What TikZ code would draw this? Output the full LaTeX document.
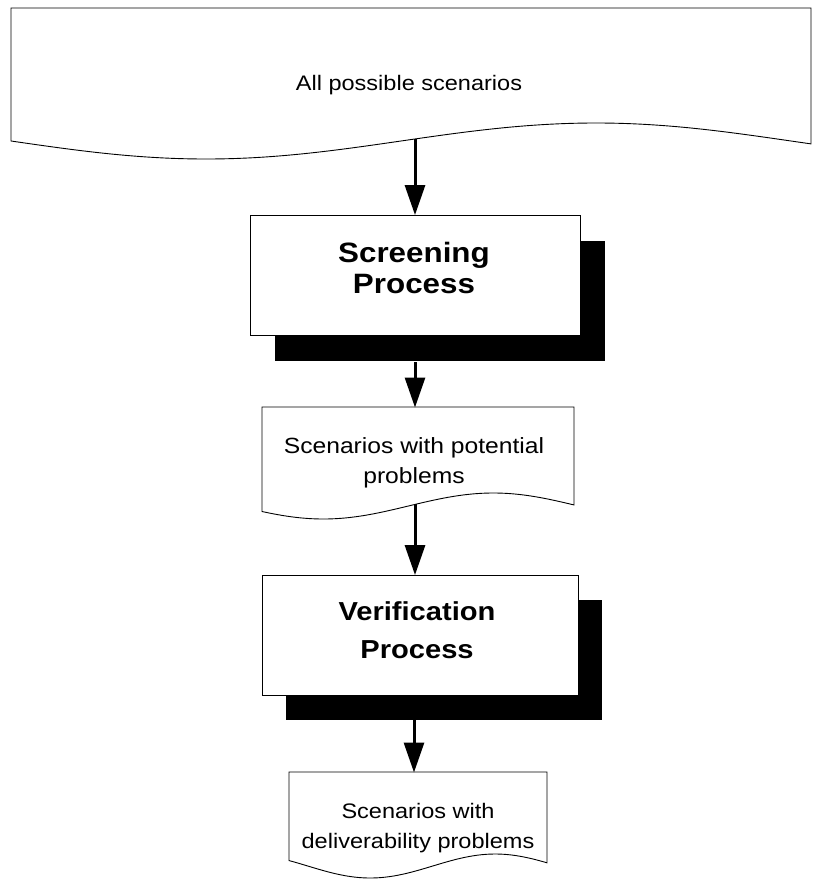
\documentclass[tikz,border=0pt]{standalone}
\usepackage{fontspec}
\newfontfamily\lsans[FakeStretch=1.12]{Liberation Sans}
\usetikzlibrary{arrows.meta,shadows}

\begin{document}
\begin{tikzpicture}[x=1pt,y=-1pt,
  outline/.style={draw=black, line width=0.9pt, fill=white},
  procbox/.style={draw=black, line width=0.9pt, fill=white, rectangle, inner sep=0pt},
  proctext/.style={font=\lsans\bfseries, inner sep=0pt, anchor=base},
  doctext/.style={font=\lsans, inner sep=0pt, anchor=base},
  flow/.style={line width=3pt, -{Triangle[length=30pt,width=20pt]}, shorten >=-0.5pt},
]
\useasboundingbox (0,0) rectangle (812,881);

% document shape: top edge, sides, and a wavy bottom edge
% all possible scenarios
\draw[outline] plot[domain=11:811, samples=90, smooth]
  (\x, {141+18*sin((\x-11)/780*360)}) -- (811,8) -- (11,8) -- cycle;
\coordinate (allout) at (415,139.4);
\node[doctext, font=\lsans\fontsize{21}{25}\selectfont] (alltext) at (409,90) {All possible scenarios};

% screening process
\node[procbox, minimum width=330pt, minimum height=120pt,
  drop shadow={shadow xshift=25pt, shadow yshift=-26pt, opacity=1, fill=black}]
  (screen) at (415,275) {};
\node[proctext, font=\lsans\bfseries\fontsize{28}{31}\selectfont] (screenA) at (414,262) {Screening};
\node[proctext, font=\lsans\bfseries\fontsize{28}{31}\selectfont] (screenB) at (414,293) {Process};
\coordinate (screenout) at (415,362);

% scenarios with potential problems
\draw[outline] plot[domain=262:574, samples=60, smooth]
  (\x, {506+13*sin((\x-262)/340*360+25)}) -- (574,407) -- (262,407) -- cycle;
\coordinate (potin) at (415,407);
\coordinate (potout) at (415,504.4);
\node[doctext, font=\lsans\fontsize{22}{29}\selectfont] (potA) at (414,453) {Scenarios with potential};
\node[doctext, font=\lsans\fontsize{22}{29}\selectfont] (potB) at (414,483) {problems};

% verification process
\node[procbox, minimum width=316pt, minimum height=120pt,
  drop shadow={shadow xshift=24pt, shadow yshift=-25pt, opacity=1, fill=black}]
  (verify) at (420,635) {};
\node[proctext, font=\lsans\bfseries\fontsize{26}{31}\selectfont] (verifyA) at (417,620) {Verification};
\node[proctext, font=\lsans\bfseries\fontsize{26}{31}\selectfont] (verifyB) at (417,658) {Process};
\coordinate (verifyout) at (414,720);

% scenarios with deliverability problems
\draw[outline] plot[domain=289:547, samples=60, smooth]
  (\x, {866+12*sin((\x-289)/250*360-27)}) -- (547,772) -- (289,772) -- cycle;
\coordinate (delin) at (414,772);
\node[doctext, font=\lsans\fontsize{21}{29}\selectfont] (delA) at (418,818) {Scenarios with};
\node[doctext, font=\lsans\fontsize{21}{29}\selectfont] (delB) at (418,848) {deliverability problems};

% flow arrows
\draw[flow] (allout) -- (screen.north);
\draw[flow] (screenout) -- (potin);
\draw[flow] (potout) -- (verify.north -| potout);
\draw[flow] (verifyout) -- (delin);
\end{tikzpicture}
\end{document}
